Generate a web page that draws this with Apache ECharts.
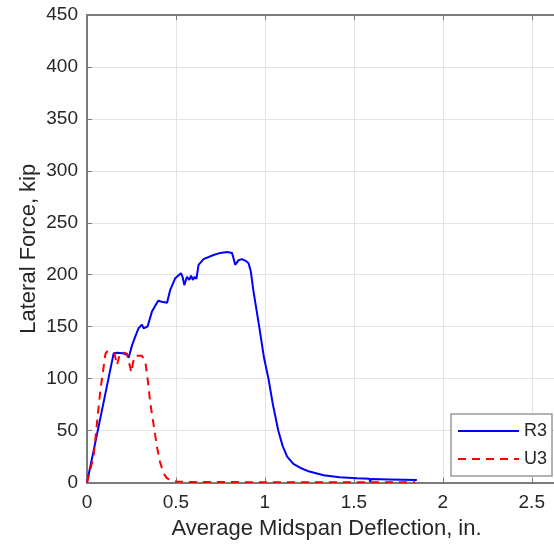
<!DOCTYPE html>
<html>
<head>
<meta charset="utf-8">
<script src="https://cdn.jsdelivr.net/npm/echarts@6/dist/echarts.min.js"></script>
<style>
  html, body { margin: 0; padding: 0; background: #fff; }
  #chart { width: 554px; height: 545px; }
</style>
</head>
<body>
<div id="chart"></div>
<script>
// Force–deflection response of the two specimens
const r3Deflection = [0, 0.075, 0.15, 0.17, 0.2, 0.225, 0.234, 0.253, 0.27, 0.29, 0.309, 0.318, 0.328, 0.34, 0.365, 0.4, 0.42, 0.45, 0.468, 0.496, 0.528, 0.537, 0.547, 0.562, 0.575, 0.585, 0.595, 0.605, 0.615, 0.627, 0.655, 0.711, 0.75, 0.787, 0.815, 0.825, 0.833, 0.852, 0.87, 0.895, 0.908, 0.921, 0.935, 0.968, 0.995, 1.02, 1.045, 1.075, 1.1, 1.125, 1.16, 1.2, 1.25, 1.33, 1.42, 1.517, 1.588, 1.592, 1.596, 1.7, 1.854];
const r3Force = [0, 62, 124.5, 125, 124.5, 123, 120, 132, 140, 148.5, 152, 148.5, 147.5, 150, 164.5, 175, 174, 173, 185.5, 196.7, 201.5, 198, 190, 198, 195, 199, 195, 198, 196, 209.5, 215, 219, 221, 221.8, 221, 215, 209.5, 214, 215, 213, 211, 203, 185, 150, 120, 100, 75, 50, 35, 25, 18, 14, 10.5, 7, 5, 4, 3.5, 0.5, 3.4, 3, 2.4];

const u3Deflection = [0, 0.037, 0.075, 0.104, 0.112, 0.14, 0.155, 0.168, 0.187, 0.205, 0.225, 0.249, 0.262, 0.271, 0.29, 0.309, 0.328, 0.342, 0.356, 0.375, 0.393, 0.41, 0.43, 0.45, 0.468, 0.5, 0.55, 1.0, 1.5, 1.845];
const u3Force = [0, 25, 89, 124, 126, 126, 124, 113, 124.5, 125, 124, 106, 118, 122, 122, 122, 116, 98, 76, 55, 34.5, 20, 8.9, 4, 2.4, 1, 0.5, 0.3, 0.2, 0.2];

const xTickStep = 0.5;
const yTickStep = 50;
const xMax = 2.625; // visible end of the deflection axis
const yMax = 450;

const pairs = (xs, ys) => xs.map((x, i) => [x, ys[i]]);

const FONT = 'Liberation Sans';
const AXIS_COLOR = '#7a7a7a';
const TEXT_COLOR = '#262626';
const GRID_COLOR = '#e3e3e3';

const chart = echarts.init(document.getElementById('chart'), null, { renderer: 'canvas' });

chart.setOption({
  animation: false,
  backgroundColor: '#ffffff',
  textStyle: { fontFamily: FONT },
  grid: { left: 87, top: 15, right: 0, bottom: 62.5, containLabel: false },
  legend: {
    orient: 'vertical',
    left: 451,
    top: 414,
    padding: [8, 5, 8, 6],
    itemWidth: 61,
    itemHeight: 14,
    itemGap: 10,
    backgroundColor: '#ffffff',
    borderColor: '#9a9a9a',
    borderWidth: 1.5,
    itemStyle: { color: 'transparent', borderWidth: 0, opacity: 0 },
    textStyle: { fontFamily: FONT, fontSize: 18, color: TEXT_COLOR },
    data: ['R3', 'U3']
  },
  xAxis: [
    {
      type: 'value',
      min: 0,
      max: xMax,
      interval: xTickStep,
      name: 'Average Midspan Deflection, in.',
      nameLocation: 'middle',
      nameGap: 35,
      nameMoveOverlap: false,
      nameTextStyle: { fontFamily: FONT, fontSize: 22, color: TEXT_COLOR, padding: [0, 0, 0, 12] },
      axisLine: { show: true, onZero: false, lineStyle: { color: AXIS_COLOR, width: 2 } },
      axisTick: { show: true, inside: true, length: 5, lineStyle: { color: AXIS_COLOR, width: 1 } },
      axisLabel: { fontFamily: FONT, fontSize: 19, color: TEXT_COLOR, margin: 11, showMaxLabel: false },
      splitLine: { show: true, lineStyle: { color: GRID_COLOR, width: 1 } }
    },
    {
      type: 'value',
      position: 'top',
      min: 0,
      max: xMax,
      interval: xTickStep,
      axisLine: { show: true, onZero: false, lineStyle: { color: AXIS_COLOR, width: 2 } },
      axisTick: { show: true, inside: true, length: 5, lineStyle: { color: AXIS_COLOR, width: 1 } },
      axisLabel: { show: false },
      splitLine: { show: false }
    }
  ],
  yAxis: {
    type: 'value',
    min: 0,
    max: yMax,
    interval: yTickStep,
    name: 'Lateral Force, kip',
    nameLocation: 'middle',
    nameGap: 47,
    nameMoveOverlap: false,
    nameTextStyle: { fontFamily: FONT, fontSize: 22, color: TEXT_COLOR },
    axisLine: { show: true, onZero: false, lineStyle: { color: AXIS_COLOR, width: 2 } },
    axisTick: { show: true, inside: true, length: 5, lineStyle: { color: AXIS_COLOR, width: 1 } },
    axisLabel: { fontFamily: FONT, fontSize: 19, color: TEXT_COLOR, margin: 9 },
    splitLine: { show: true, lineStyle: { color: GRID_COLOR, width: 1 } }
  },
  series: [
    {
      name: 'R3',
      type: 'line',
      data: pairs(r3Deflection, r3Force),
      showSymbol: false,
      symbol: 'none',
      lineStyle: { color: '#0000ff', width: 2 },
      itemStyle: { color: '#0000ff' },
      z: 3
    },
    {
      name: 'U3',
      type: 'line',
      data: pairs(u3Deflection, u3Force),
      showSymbol: false,
      symbol: 'none',
      lineStyle: { color: '#ff0000', width: 2, type: [8, 6] },
      itemStyle: { color: '#ff0000' },
      z: 4
    }
  ]
});
</script>
</body>
</html>
